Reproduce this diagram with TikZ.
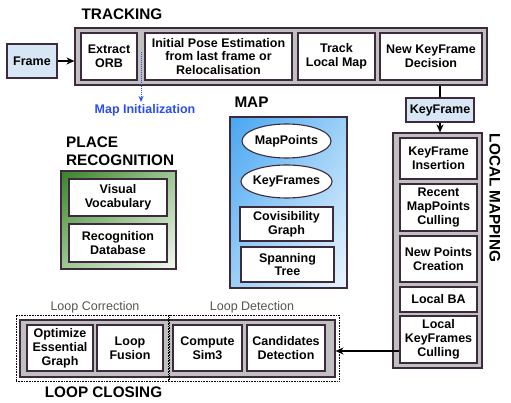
\documentclass[tikz,border=0pt]{standalone}
\usepackage{fontspec}
\setmainfont{Liberation Sans}
\usepackage{xcolor}
\usepackage{tikz}
\usetikzlibrary{shapes,arrows.meta,calc,shadings}
\definecolor{rim}{HTML}{3D2B3D}
\definecolor{panel}{HTML}{C0C0C0}
\definecolor{paleblue}{HTML}{D6E6F4}
\definecolor{initblue}{HTML}{2A4CF2}
\definecolor{labgray}{HTML}{555555}
\definecolor{mapdark}{HTML}{48A6F2}
\definecolor{mapmid}{HTML}{9CD0F7}
\definecolor{maplight}{HTML}{EAF5FD}
\definecolor{placedark}{HTML}{3A822A}
\definecolor{placemid}{HTML}{9DC892}
\definecolor{placelight}{HTML}{F2F8F0}
\tikzset{
  blk/.style={draw=rim, line width=1.1pt, fill=white, align=center, inner sep=1pt,
    font=\fontsize{12.5}{13.8}\selectfont\bfseries},
  oval/.style={blk, ellipse, inner xsep=-1.5pt, inner ysep=0pt},
  panelbox/.style={draw=rim, line width=1.1pt, fill=panel},
  title/.style={font=\fontsize{15.3}{18}\selectfont\bfseries, inner sep=0pt},
  sublabel/.style={font=\fontsize{12.5}{14}\selectfont, text=labgray, inner sep=0pt},
  group/.style={draw, densely dotted, line width=0.6pt},
  flow/.style={line width=2pt, -{Stealth[length=8pt,width=7pt]}},
}

\begin{document}
\begin{tikzpicture}[x=1pt,y=-1pt]
    \useasboundingbox (0,0) rectangle (511,403);
    % tracking
    \node[title] (trackT) at (122,14) {TRACKING};
    \node[blk, fill=paleblue, minimum width=50, minimum height=34] (frame) at (32,61) {Frame};
    \node[panelbox, minimum width=412, minimum height=57] (track) at (281,56.5) {};
    \node[blk, minimum width=56, minimum height=47] (orb) at (109,56.5) {Extract\\ORB};
    \node[blk, minimum width=147, minimum height=47] (pose) at (218.5,56.5) {Initial Pose Estimation\\from last frame or\\Relocalisation};
    \node[blk, minimum width=77, minimum height=47] (tlm) at (336.5,56.5) {Track\\Local Map};
    \node[blk, minimum width=102, minimum height=47] (nkd) at (431,56.5) {New KeyFrame\\Decision};
    \node[font=\fontsize{12.5}{14}\selectfont\bfseries, text=initblue, inner sep=2pt] (mapinit) at (145,110) {Map Initialization};
    \coordinate (initsrc) at (141,52);
    \draw[flow] (frame.east) -- (frame.east -| track.west);
    \draw[initblue, densely dotted, line width=1pt, -{Stealth[length=6pt,width=5pt]}] (initsrc) -- (initsrc |- mapinit.north);

    % keyframe and local mapping
    \node[blk, fill=paleblue, minimum width=68, minimum height=24] (kf) at (440,110) {KeyFrame};
    \node[panelbox, minimum width=89, minimum height=235] (lmap) at (437.5,250.5) {};
    \node[blk, minimum width=77, minimum height=41] (kfi) at (438.5,158.5) {KeyFrame\\Insertion};
    \node[blk, minimum width=77, minimum height=47] (rmc) at (438.5,207.5) {Recent\\MapPoints\\Culling};
    \node[blk, minimum width=77, minimum height=46] (npc) at (438.5,259) {New Points\\Creation};
    \node[blk, minimum width=77, minimum height=25] (lba) at (438.5,299.5) {Local BA};
    \node[blk, minimum width=77, minimum height=47] (lkc) at (438.5,339.5) {Local\\KeyFrames\\Culling};
    \node[title, rotate=-90] (lmapT) at (495,198) {LOCAL MAPPING};
    \draw[line width=2pt] (kf.north |- track.south) -- (kf.north);
    \draw[flow] (kf.south) -- (kf.south |- lmap.north);

    % map
    \node[title] (mapT) at (251.5,102) {MAP};
    \node[draw=rim, line width=1.1pt, minimum width=117, minimum height=171,
      upper left=mapdark, upper right=mapmid, lower left=mapmid, lower right=maplight] (map) at (288.5,202.5) {};
    \node[oval, minimum width=89, minimum height=34] (mpts) at (286.5,141) {MapPoints};
    \node[oval, minimum width=89, minimum height=33] (kfs) at (286.5,181.5) {KeyFrames};
    \node[blk, minimum width=93, minimum height=34] (covis) at (286.5,224) {Covisibility\\Graph};
    \node[blk, minimum width=93, minimum height=35] (stree) at (287.5,264.5) {Spanning\\Tree};

    % place recognition
    \node[title, align=left, anchor=west] (placeT) at (66,151) {PLACE\\RECOGNITION};
    \node[draw=rim, line width=1.1pt, minimum width=115, minimum height=98,
      upper left=placedark, upper right=placemid, lower left=placemid, lower right=placelight] (place) at (118.5,220) {};
    \node[blk, minimum width=98, minimum height=37] (vocab) at (118,197.5) {Visual\\Vocabulary};
    \node[blk, minimum width=98, minimum height=38] (recdb) at (118,243) {Recognition\\Database};

    % loop closing
    \node[panelbox, minimum width=315, minimum height=57] (loop) at (177.5,348.5) {};
    \node[group, minimum width=152, minimum height=66] (corr) at (92,348) {};
    \node[group, minimum width=170, minimum height=66] (detc) at (254,348) {};
    \node[blk, minimum width=66, minimum height=46] (oeg) at (60,348) {Optimize\\Essential\\Graph};
    \node[blk, minimum width=66, minimum height=46] (fusion) at (130,348) {Loop\\Fusion};
    \node[blk, minimum width=69, minimum height=46] (sim3) at (207.5,348) {Compute\\Sim3};
    \node[blk, minimum width=78, minimum height=46] (cand) at (286,348) {Candidates\\Detection};
    \node[sublabel] (corrT) at (95,307) {Loop Correction};
    \node[sublabel] (detcT) at (252,307) {Loop Detection};
    \node[title] (loopT) at (103.5,392.5) {LOOP CLOSING};
    \draw[flow] ([yshift=-11.5pt]lkc.west) -- ([yshift=-11.5pt]lkc.west -| loop.east);
\end{tikzpicture}
\end{document}
